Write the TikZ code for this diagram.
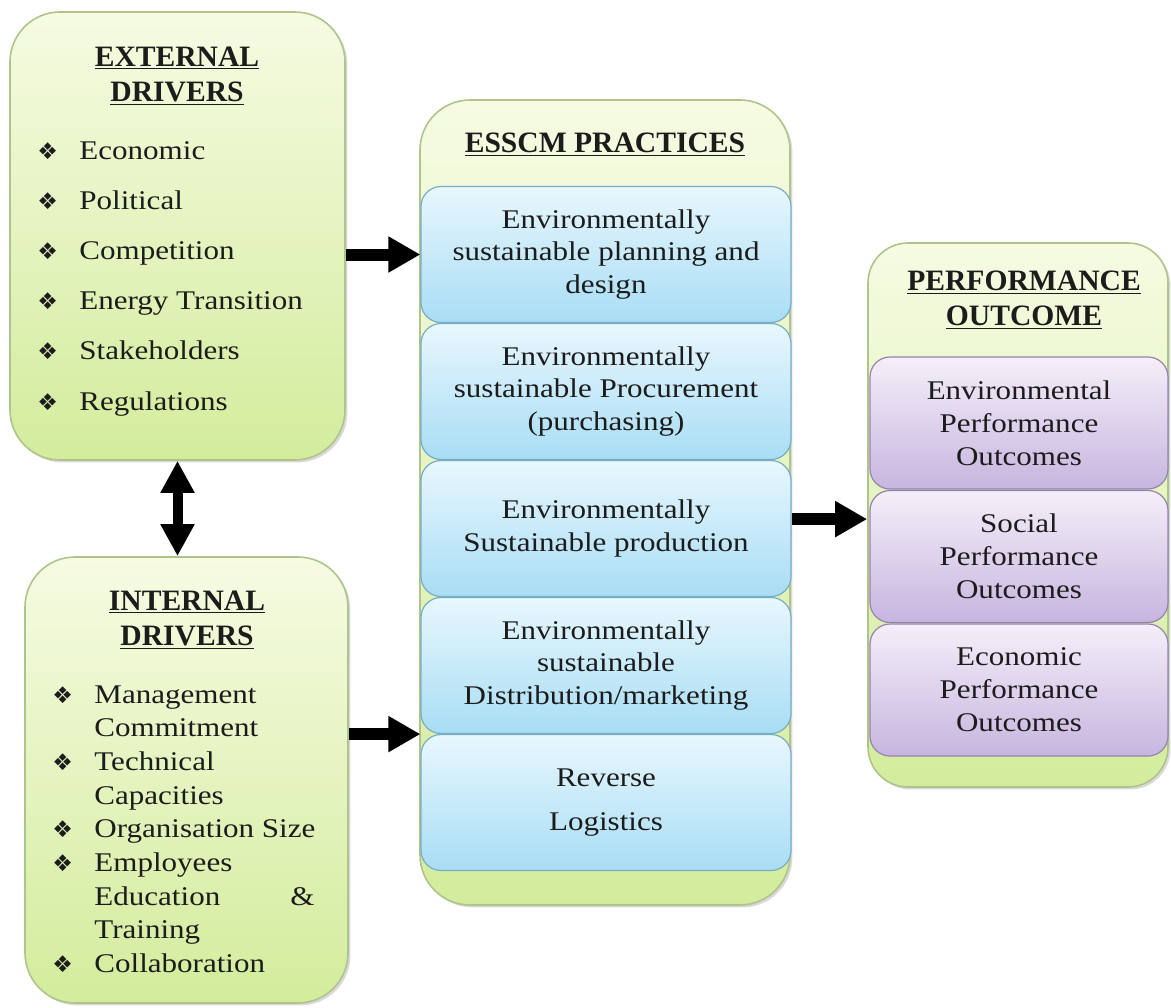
\documentclass[tikz,border=0pt]{standalone}
\usepackage{fontspec}
\setmainfont[FakeStretch=1.15]{Liberation Serif}
\newfontfamily\headfont{Liberation Serif}
\newfontfamily\dingfont{DejaVu Sans}
\usepackage{xcolor}
\usetikzlibrary{positioning,shadows,arrows.meta}

\definecolor{greentop}{HTML}{F6FBE2}
\definecolor{greenbot}{HTML}{D3EC9C}
\definecolor{greenline}{HTML}{AFC48C}
\definecolor{bluetop}{HTML}{E8F7FD}
\definecolor{bluebot}{HTML}{A8DDF5}
\definecolor{blueline}{HTML}{78AEC4}
\definecolor{purptop}{HTML}{F4EFF9}
\definecolor{purpbot}{HTML}{C7B5DF}
\definecolor{purpline}{HTML}{9484AE}
\definecolor{inktext}{HTML}{1C1C1C}

\newcommand{\dia}{\makebox[21pt][l]{{\dingfont\fontsize{11.5}{11.5}\selectfont ❖}}}

\tikzset{
  greenbox/.style={draw=greenline, line width=0.8pt, top color=greentop, bottom color=greenbot,
                   drop shadow={shadow xshift=1.2pt, shadow yshift=-1.2pt, opacity=0.3}, inner sep=0pt},
  practice/.style={draw=blueline, line width=0.6pt, rounded corners=10pt, top color=bluetop, bottom color=bluebot,
                   minimum width=185pt, minimum height=68pt, align=center, text=inktext,
                   font=\fontsize{13.5}{16.2}\selectfont},
  outcome/.style={draw=purpline, line width=0.6pt, rounded corners=10pt, top color=purptop, bottom color=purpbot,
                  minimum width=149pt, minimum height=66pt, align=center, text=inktext,
                  font=\fontsize{13.5}{16.5}\selectfont},
  heading/.style={font=\headfont\fontsize{14.8}{17.5}\selectfont\bfseries, align=center, text=inktext},
  listitem/.style={anchor=base west, inner sep=0pt, text=inktext, font=\fontsize{13.5}{15}\selectfont},
  fatarrow/.style={line width=6pt, -{Triangle[length=16pt,width=17pt]}},
  twoway/.style={line width=5pt, {Triangle[length=16pt,width=16pt]}-{Triangle[length=16pt,width=16pt]}}
}

\begin{document}
\begin{tikzpicture}[x=0.5pt,y=-0.5pt]
  \useasboundingbox (0,0) rectangle (1171,1007);

  % outer boxes
  \node[greenbox, rounded corners=25pt, minimum width=167.5pt, minimum height=224pt] (ext) at (177.5,236) {};
  \node[greenbox, rounded corners=25pt, minimum width=161.5pt, minimum height=223pt] (int) at (186.5,780) {};
  \node[greenbox, rounded corners=25pt, minimum width=185pt, minimum height=402.5pt] (esscm) at (605,502.5) {};
  \node[greenbox, rounded corners=20pt, minimum width=150pt, minimum height=272pt] (perf) at (1018,515) {};

  % headings
  \node[heading] (extTitle) at (177,76) {\underline{EXTERNAL}\\\underline{DRIVERS}};
  \node[heading] (intTitle) at (187,620) {\underline{INTERNAL}\\\underline{DRIVERS}};
  \node[heading, anchor=base] (esscmTitle) at (605,152) {\underline{ESSCM PRACTICES}};
  \node[heading] (perfTitle) at (1024,300) {\underline{PERFORMANCE}\\\underline{OUTCOME}};

  % external drivers
  \foreach \txt [count=\i] in {Economic, Political, Competition, Energy Transition, Stakeholders, Regulations}
    \node[listitem, name=ex\i] at (37,{159+50.2*(\i-1)}) {\dia\txt};

  % internal drivers
  \foreach \bul/\txt [count=\i] in {1/Management, 0/Commitment, 1/Technical, 0/Capacities, 1/Organisation Size,
                                    1/Employees, 0/{\makebox[110pt][l]{Education\hfill\&}}, 0/Training, 1/Collaboration}
    \node[listitem, name=in\i] at ({52+42*(1-\bul)},{703+33.7*(\i-1)}) {\ifnum\bul=1 \dia\fi\txt};

  % practices
  \foreach \txt [count=\i] in {{Environmentally\\sustainable planning and\\design},
                               {Environmentally\\sustainable Procurement\\(purchasing)},
                               {Environmentally\\Sustainable production},
                               {Environmentally\\sustainable\\Distribution/marketing},
                               {Reverse\\[6pt]Logistics}}
    \node[practice, name=p\i] at (606,{254.5+137*(\i-1)}) {\txt};

  % outcomes
  \foreach \txt [count=\i] in {Environmental, Social, Economic}
    \node[outcome, name=o\i] at (1019,{423+133.5*(\i-1)}) {\txt\\Performance\\Outcomes};

  % arrows
  \draw[fatarrow] (ext.east |- p1.west) -- (p1.west);
  \draw[fatarrow] (int.east |- p4.south) -- (p4.south west);
  \draw[fatarrow] ([yshift=4.7pt]p3.east) -- ([yshift=4.7pt]p3.east -| perf.west);
  \draw[twoway] (ext.south) -- (ext.south |- int.north);
\end{tikzpicture}
\end{document}
